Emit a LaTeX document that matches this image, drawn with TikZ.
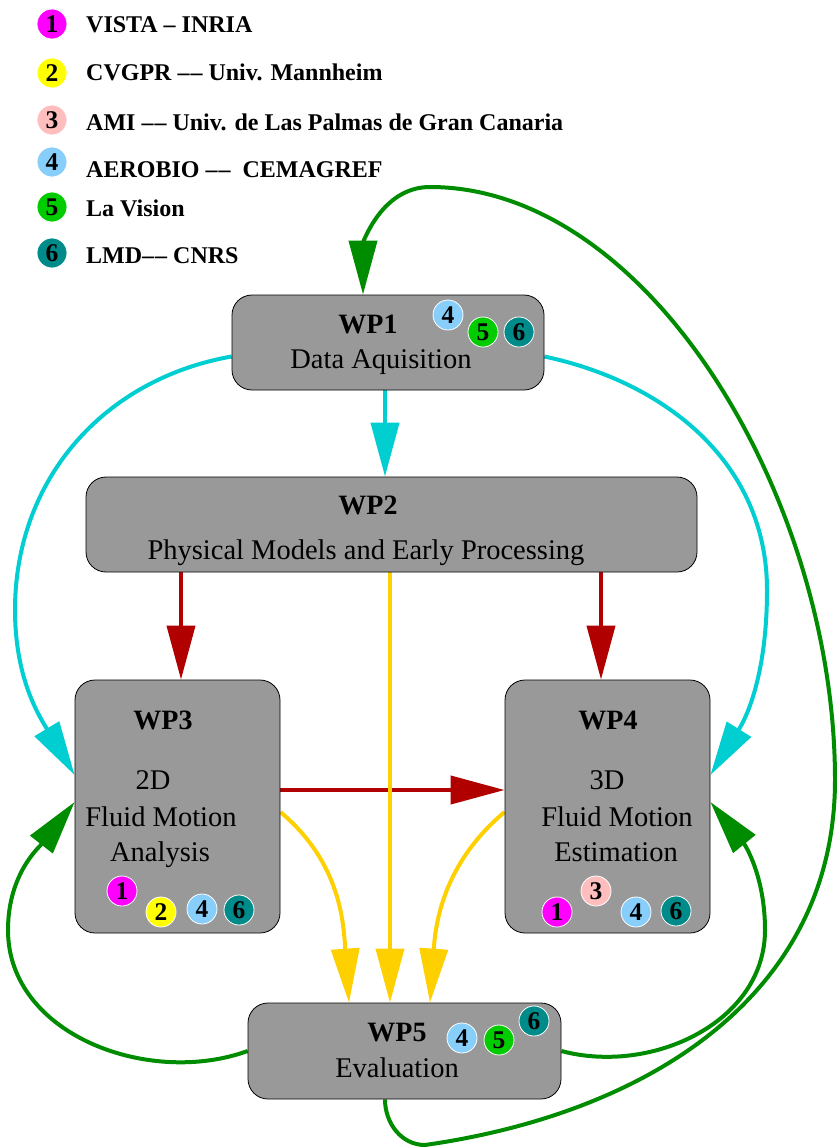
\documentclass[tikz,border=0pt]{standalone}
\usepackage{fontspec}
\setmainfont{Liberation Serif}
\usetikzlibrary{arrows.meta}
\definecolor{boxgray}{RGB}{153,153,153}
\definecolor{cyanc}{RGB}{0,206,209}
\definecolor{redc}{RGB}{176,0,0}
\definecolor{yelc}{RGB}{255,208,0}
\definecolor{grnc}{RGB}{0,140,0}
\definecolor{pa}{RGB}{255,0,255}
\definecolor{pb}{RGB}{255,255,0}
\definecolor{pc}{RGB}{255,190,190}
\definecolor{pd}{RGB}{135,206,250}
\definecolor{pe}{RGB}{0,204,0}
\definecolor{pf}{RGB}{0,139,139}
\newcommand{\ddash}{–\kern1pt–}
\pgfdeclarelayer{bg}
\pgfsetlayers{bg,main}
\begin{document}
\begin{tikzpicture}[x=1pt,y=1pt,
  wpbox/.style={draw=black, line width=0.8pt, fill=boxgray, rounded corners=20pt, inner sep=0pt},
  lbl/.style={font=\fontsize{28}{30}\selectfont\bfseries, anchor=base, inner sep=0pt},
  txt/.style={font=\fontsize{28.5}{30}\selectfont, anchor=base, inner sep=0pt},
  legtxt/.style={font=\fontsize{24}{26}\selectfont\bfseries, anchor=base west, inner sep=0pt},
  badge/.style={circle, draw=white, line width=0.8pt, minimum size=30pt, inner sep=0pt, font=\fontsize{25.5}{25}\selectfont\bfseries},
  conn/.style={line width=4pt, -{Triangle[length=54pt,width=28pt]}}]
\useasboundingbox (0,0) rectangle (837,-1148);

% legend
\node[badge, fill=pa] (l1) at (52,-24) {1};
\node[badge, fill=pb] (l2) at (52,-73) {2};
\node[badge, fill=pc] (l3) at (52,-120) {3};
\node[badge, fill=pd] (l4) at (52,-162) {4};
\node[badge, fill=pe] (l5) at (52,-207) {5};
\node[badge, fill=pf] (l6) at (52,-253) {6};
\node[legtxt] (t1) at (86,-33) {VISTA – INRIA};
\node[legtxt] (t2) at (86,-81) {CVGPR \ddash{} Univ. Mannheim};
\node[legtxt] (t3) at (86,-130) {AMI \ddash{} Univ. de Las Palmas de Gran Canaria};
\node[legtxt] (t4) at (86,-177) {AEROBIO \ddash\ \ CEMAGREF};
\node[legtxt] (t5) at (86,-216) {La Vision};
\node[legtxt] (t6) at (86,-263) {LMD\ddash{} CNRS};

% boxes
\node[wpbox, minimum width=312pt, minimum height=95pt] (wp1) at (388,-342.5) {};
\node[wpbox, minimum width=611pt, minimum height=95pt] (wp2) at (391.5,-524.5) {};
\node[wpbox, minimum width=205pt, minimum height=253pt] (wp3) at (177.5,-806.5) {};
\node[wpbox, minimum width=205pt, minimum height=253pt] (wp4) at (607.5,-806.5) {};
\node[wpbox, minimum width=313pt, minimum height=96pt] (wp5) at (404.5,-1051) {};

% box texts
\node[lbl] (wp1l) at (368,-333) {WP1};
\node[txt] (wp1t) at (381,-368) {Data Aquisition};
\node[lbl] (wp2l) at (368,-514) {WP2};
\node[txt] (wp2t) at (366,-559) {Physical Models and Early Processing};
\node[lbl] (wp3l) at (163,-729) {WP3};
\node[txt] (wp3a) at (153,-789) {2D};
\node[txt] (wp3b) at (161,-826) {Fluid Motion};
\node[txt] (wp3c) at (160,-861) {Analysis};
\node[lbl] (wp4l) at (608,-729) {WP4};
\node[txt] (wp4a) at (607,-789) {3D};
\node[txt] (wp4b) at (617,-826) {Fluid Motion};
\node[txt] (wp4c) at (616,-861) {Estimation};
\node[lbl] (wp5l) at (397,-1041) {WP5};
\node[txt] (wp5t) at (397,-1077) {Evaluation};

% badges
\node[badge, fill=pd] (b14) at (448,-315) {4};
\node[badge, fill=pe] (b15) at (483,-332) {5};
\node[badge, fill=pf] (b16) at (519,-332) {6};
\node[badge, fill=pa] (b31) at (122,-891) {1};
\node[badge, fill=pb] (b32) at (161,-912) {2};
\node[badge, fill=pd] (b34) at (202,-909) {4};
\node[badge, fill=pf] (b36) at (239,-910) {6};
\node[badge, fill=pc] (b43) at (596,-891) {3};
\node[badge, fill=pa] (b41) at (557,-912) {1};
\node[badge, fill=pd] (b44) at (636,-912) {4};
\node[badge, fill=pf] (b46) at (676,-911) {6};
\node[badge, fill=pd] (b54) at (462,-1038) {4};
\node[badge, fill=pe] (b55) at (499,-1040) {5};
\node[badge, fill=pf] (b56) at (534,-1021) {6};

\begin{pgfonlayer}{bg}
% cyan
\draw[conn, cyanc] ([xshift=-3pt]wp1.south) -- ([xshift=-6.5pt]wp2.north);
\draw[conn, cyanc] ([yshift=-14pt]wp1.west) to[out=190,in=90] (15,-610) to[out=-90,in=121] ([yshift=31.5pt]wp3.west);
\draw[conn, cyanc] ([yshift=-14pt]wp1.east) to[out=-12,in=90] (767,-590) to[out=-90,in=58] ([yshift=31.5pt]wp4.east);
% red
\draw[conn, redc] ([xshift=-210.5pt]wp2.south) -- ([xshift=3.5pt]wp3.north);
\draw[conn, redc] ([xshift=209.5pt]wp2.south) -- ([xshift=-6.5pt]wp4.north);
\draw[conn, redc] ([yshift=16.5pt]wp3.east) -- ([yshift=16.5pt]wp4.west);
% yellow
\draw[conn, yelc] ([xshift=-1.5pt]wp2.south) -- ([xshift=-14.5pt]wp5.north);
\draw[conn, yelc] ([yshift=-5.5pt]wp3.east) to[out=-40,in=94] ([xshift=-55.5pt]wp5.north);
\draw[conn, yelc] ([yshift=-5.5pt]wp4.west) to[out=220,in=86] ([xshift=25.5pt]wp5.north);
% green
\draw[conn, grnc] (wp5.west) to[out=200,in=-90] (8,-930) to[out=90,in=232] ([yshift=4.5pt]wp3.west);
\draw[conn, grnc] (wp5.east) to[out=-15,in=-90] (765,-930) to[out=90,in=-51] ([yshift=4.5pt]wp4.east);
\draw[conn, grnc] ([xshift=-19.5pt]wp5.south) to[out=-90,in=180] (425,-1145)
   .. controls (650,-1113) and (835,-994) .. (835,-780)
   .. controls (835,-500) and (650,-187) .. (430,-187)
   to[out=180,in=90] ([xshift=-25pt]wp1.north);
\end{pgfonlayer}
\end{tikzpicture}
\end{document}
